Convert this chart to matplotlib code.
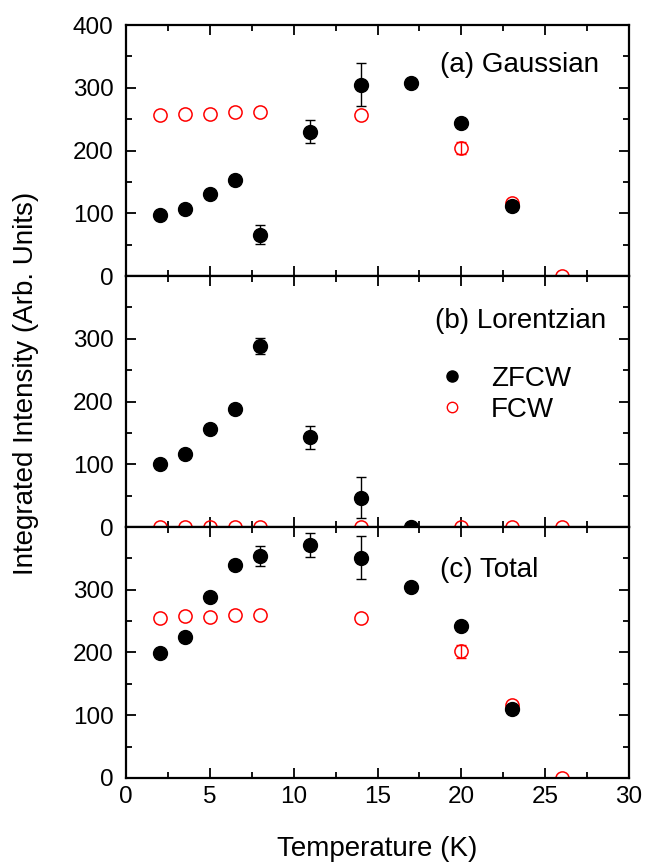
import matplotlib
matplotlib.use("Agg")
import matplotlib.pyplot as plt
from matplotlib.ticker import MultipleLocator
from matplotlib.lines import Line2D

plt.rcParams['font.family'] = ['Liberation Sans', 'DejaVu Sans']

# ZFCW temperatures and values per panel
T_zfc = [2, 3.5, 5, 6.5, 8, 11, 14, 17, 20, 23]
gauss_zfc = [97, 107, 131, 153, 66, 230, 305, 308, 244, 111]
gauss_zfc_err = [0, 0, 0, 0, 15, 18, 34, 0, 0, 0]

T_zfc_l = [2, 3.5, 5, 6.5, 8, 11, 14, 17]
lor_zfc = [101, 117, 157, 188, 289, 143, 47, 0]
lor_zfc_err = [0, 0, 0, 0, 13, 18, 32, 0]

total_zfc = [199, 225, 288, 340, 354, 372, 351, 305, 242, 110]
total_zfc_err = [0, 0, 0, 0, 16, 19, 34, 0, 0, 0]

# FCW
T_fc = [2, 3.5, 5, 6.5, 8, 14, 20, 23, 26]
gauss_fc = [256, 259, 258, 261, 261, 256, 204, 117, 0]
gauss_fc_err = [0, 0, 0, 0, 0, 0, 10, 0, 0]
lor_fc = [0, 0, 0, 0, 0, 0, 0, 0, 0]
lor_fc_err = [0, 0, 0, 0, 0, 0, 0, 0, 0]
total_fc = [255, 258, 256, 260, 260, 255, 202, 116, 0]
total_fc_err = [0, 0, 0, 0, 0, 0, 10, 0, 0]

fig, axes = plt.subplots(3, 1, figsize=(6.47, 8.65), dpi=100, sharex=True)
fig.subplots_adjust(left=0.195, right=0.972, top=0.971, bottom=0.1006, hspace=0)

panels = [
    (T_zfc, gauss_zfc, gauss_zfc_err, gauss_fc, gauss_fc_err, "(a) Gaussian", 0.624, 0.84),
    (T_zfc_l, lor_zfc, lor_zfc_err, lor_fc, lor_fc_err, "(b) Lorentzian", 0.614, 0.82),
    (T_zfc, total_zfc, total_zfc_err, total_fc, total_fc_err, "(c) Total", 0.624, 0.83),
]


def with_err(x, y, e):
    # keep only points that carry an error bar
    pts = [(a, b, c) for a, b, c in zip(x, y, e) if c > 0]
    return [p[0] for p in pts], [p[1] for p in pts], [p[2] for p in pts]


for i, (tz, yz, ez, yf, ef, title, tx, ty) in enumerate(panels):
    ax = axes[i]
    # FCW (open red) underneath
    xe, ye, ee = with_err(T_fc, yf, ef)
    if xe:
        ax.errorbar(xe, ye, yerr=ee, fmt='none', ecolor='red', elinewidth=1.0,
                    capsize=3.5, capthick=1.0, zorder=2)
    ax.plot(T_fc, yf, 'o', mfc='none', mec='red', ms=9.5, mew=1.1, zorder=2)
    # ZFCW (filled black) on top
    xe, ye, ee = with_err(tz, yz, ez)
    if xe:
        ax.errorbar(xe, ye, yerr=ee, fmt='none', ecolor='black', elinewidth=1.0,
                    capsize=3.5, capthick=1.0, zorder=3)
    ax.plot(tz, yz, 'o', color='black', ms=10, zorder=3)

    ax.set_ylim(0, 400)
    ax.set_xlim(0, 30)
    if i == 0:
        ax.set_yticks([0, 100, 200, 300, 400])
    else:
        ax.set_yticks([0, 100, 200, 300])
    ax.yaxis.set_minor_locator(MultipleLocator(50))
    ax.xaxis.set_major_locator(MultipleLocator(5))
    ax.xaxis.set_minor_locator(MultipleLocator(2.5))
    ax.tick_params(which='both', direction='in', top=True, right=True,
                   labelsize=17.5, width=1.3)
    ax.tick_params(axis='y', which='major', pad=9)
    ax.tick_params(axis='x', which='major', pad=6)
    ax.tick_params(which='major', length=7)
    ax.tick_params(which='minor', length=4)
    for s in ax.spines.values():
        s.set_linewidth(1.6)
    ax.text(tx, ty, title, transform=ax.transAxes, ha='left', va='center',
            fontsize=20)

# legend in panel b
handles = [
    Line2D([], [], ls='none', marker='o', color='black', ms=8),
    Line2D([], [], ls='none', marker='o', mfc='none', mec='red', ms=7.5, mew=1.0),
]
axes[1].legend(handles, ['ZFCW', 'FCW'], loc='center left',
               bbox_to_anchor=(0.62, 0.53), frameon=False, fontsize=20,
               handlelength=1.0, handletextpad=0.9, labelspacing=0.18,
               borderpad=0, borderaxespad=0)

axes[2].set_xlabel('Temperature (K)', fontsize=20, labelpad=20)
fig.text(0.04, 0.557, 'Integrated Intensity (Arb. Units)', rotation=90,
         ha='center', va='center', fontsize=20)

fig.savefig('out.png', dpi=100)
